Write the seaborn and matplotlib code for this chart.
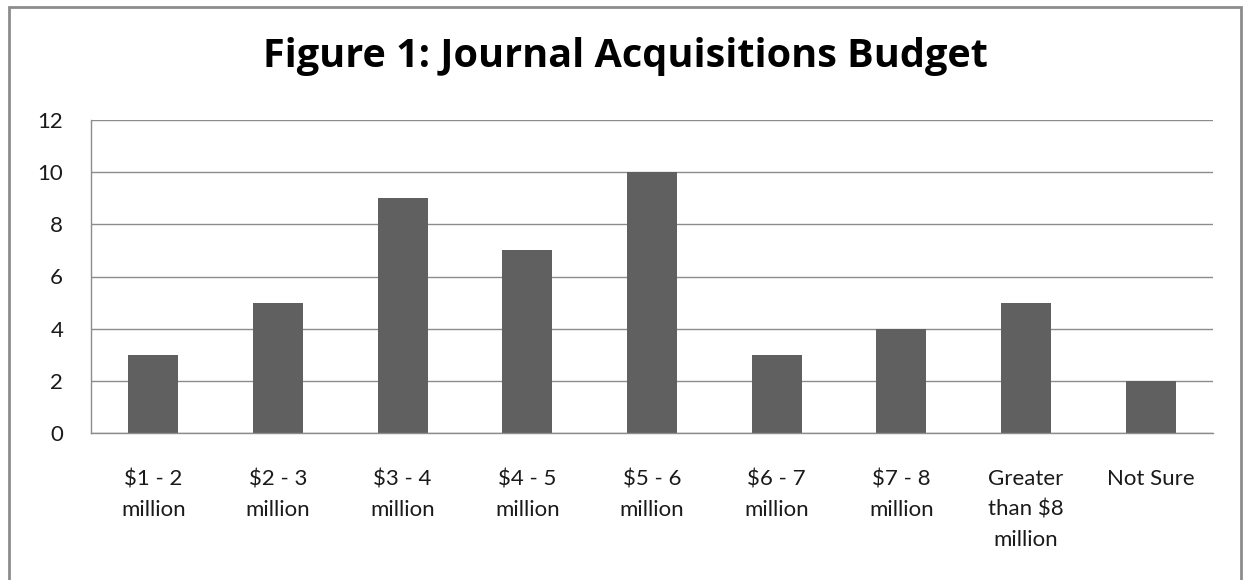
import matplotlib
matplotlib.use("Agg")
import matplotlib.pyplot as plt
import seaborn as sns
import pandas as pd
from matplotlib.patches import Rectangle

categories = ["$1 - 2\nmillion", "$2 - 3\nmillion", "$3 - 4\nmillion", "$4 - 5\nmillion",
              "$5 - 6\nmillion", "$6 - 7\nmillion", "$7 - 8\nmillion",
              "Greater\nthan $8\nmillion", "Not Sure"]
values = [3, 5, 9, 7, 10, 3, 4, 5, 2]
yticks = [0, 2, 4, 6, 8, 10, 12]
title = "Figure 1: Journal Acquisitions Budget"

sns.set_theme(style="white")
plt.rcParams['font.family'] = ['Lato', 'DejaVu Sans']

df = pd.DataFrame({"cat": categories, "val": values})

fig = plt.figure(figsize=(12.44, 5.80), dpi=100)
ax = fig.add_axes([91/1244, 1-433/580, (1213-91)/1244, (433-120)/580])

sns.barplot(data=df, x="cat", y="val", color="#606060", width=0.4, ax=ax,
            saturation=1, edgecolor="none")

ax.set_ylim(0, 12)
ax.set_yticks(yticks)
ax.yaxis.grid(True, color="#8c8c8c", linewidth=1)
ax.set_axisbelow(True)
ax.set_xlabel("")
ax.set_ylabel("")
for s in ["top", "right"]:
    ax.spines[s].set_visible(False)
for s in ["left", "bottom"]:
    ax.spines[s].set_color("#8c8c8c")
    ax.spines[s].set_linewidth(1)
ax.tick_params(axis="both", length=0)
ax.tick_params(axis="y", pad=20, labelsize=16, labelcolor="#1a1a1a")
ax.tick_params(axis="x", pad=26, labelsize=16, labelcolor="#1a1a1a")
for lab in ax.get_xticklabels():
    lab.set_linespacing(1.65)
    lab.set_verticalalignment("top")

fig.text(625/1244, 1-67/580, title, ha="center", va="baseline",
         fontsize=28.5, fontweight="bold", color="black",
         family=["Open Sans", "DejaVu Sans"])

fig.patches.append(Rectangle((9/1244, -0.02), (1241-9)/1244, 1-7/580+0.02,
                             transform=fig.transFigure, fill=False,
                             edgecolor="#8c8c8c", linewidth=2))

fig.savefig("out.png", dpi=100, facecolor="white")
